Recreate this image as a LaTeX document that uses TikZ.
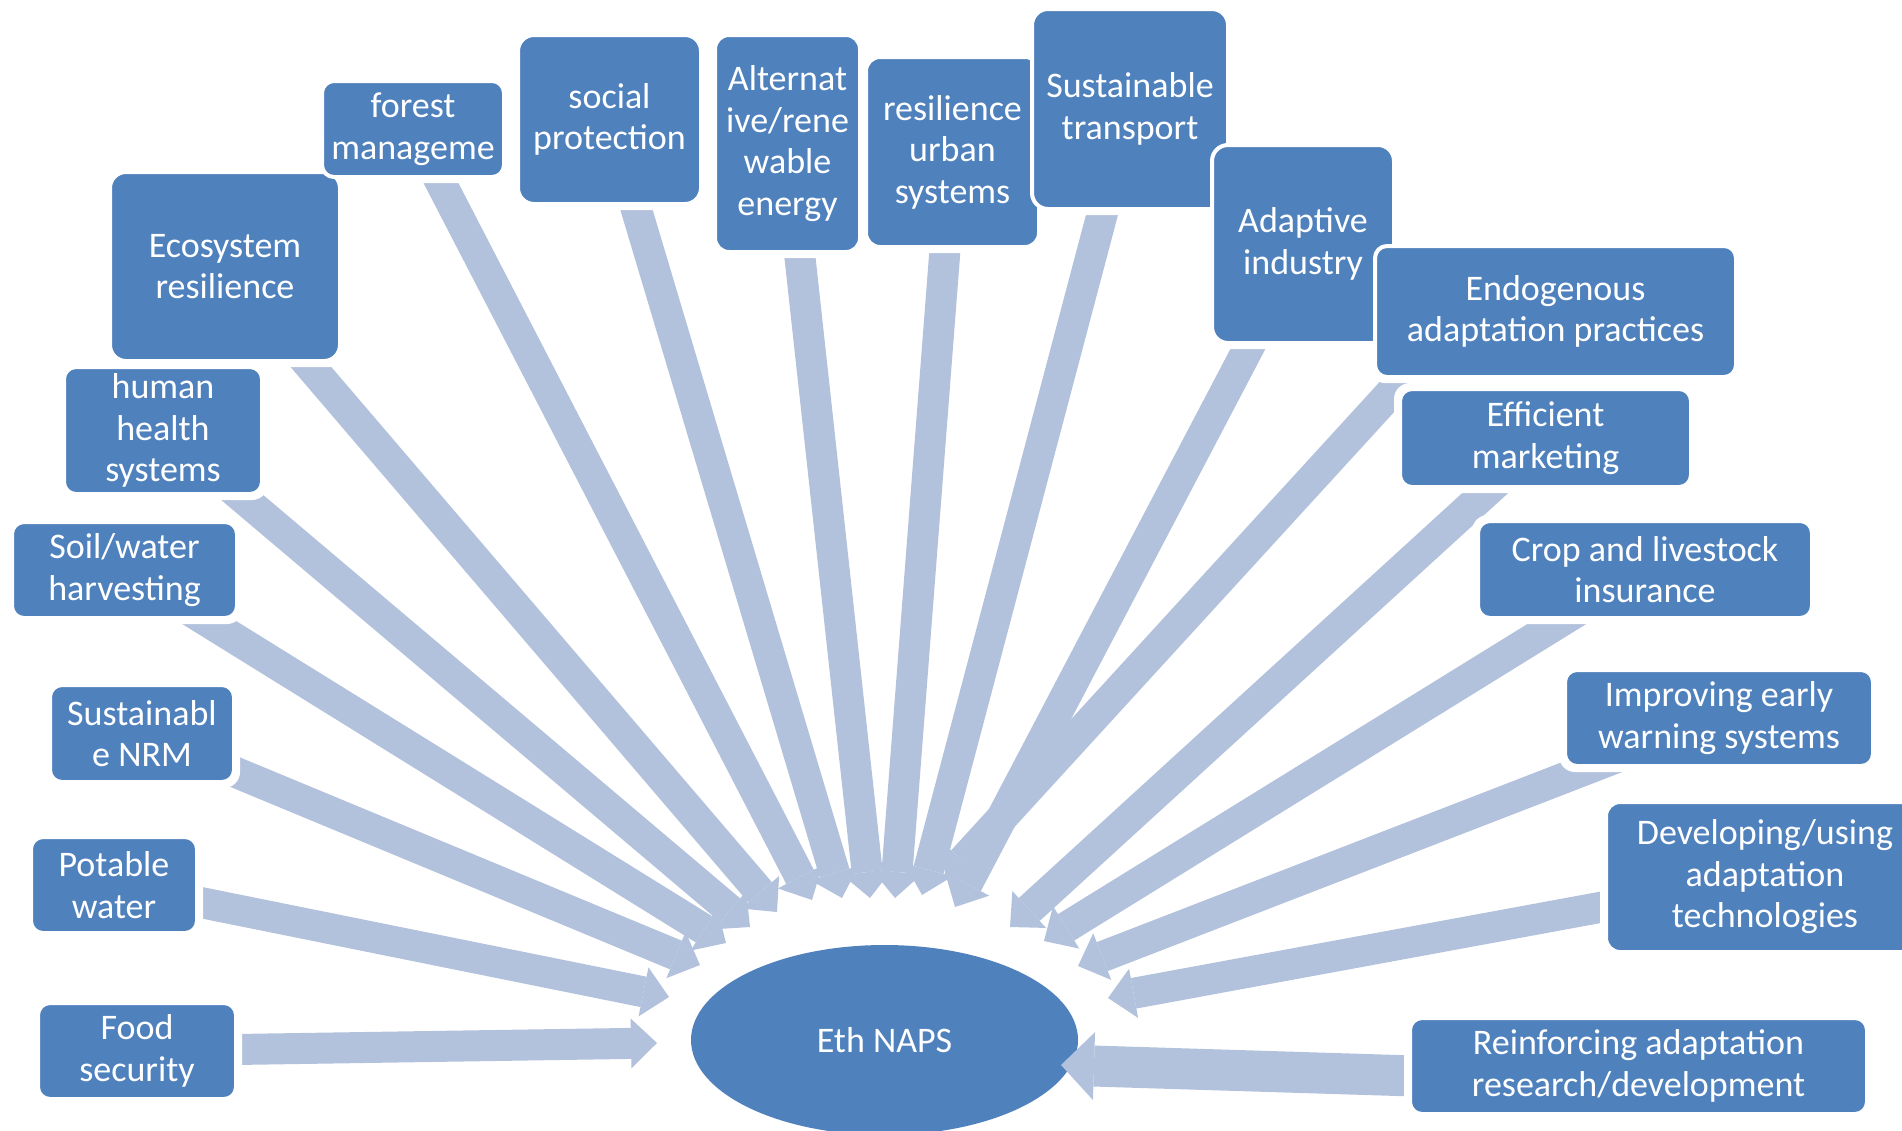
\documentclass[tikz,border=0pt]{standalone}
\usepackage{fontspec}
\newfontfamily\carl{Carlito}
\usetikzlibrary{shapes.geometric,arrows.meta,calc}
\definecolor{boxblue}{HTML}{4F81BD}
\definecolor{arrowc}{HTML}{B2C1DC}
\pgfdeclarelayer{ell}
\pgfdeclarelayer{arr}
\pgfdeclarelayer{halo}
\pgfsetlayers{ell,arr,halo,main}
\tikzset{
  box/.style={draw=white, line width=4pt, fill=boxblue, text=white,
    font=\carl\fontsize{36}{41.5}\selectfont, align=center, inner sep=0pt, outer sep=0pt},
  arr/.style={draw=arrowc, line width=31pt, -{Triangle[width=50pt,length=26pt,line width=0pt]}},
  arrbig/.style={draw=arrowc, line width=41pt, -{Triangle[width=68pt,length=33pt,line width=0pt]}},
}
% #1 corner radius, #2 name, #3 x1, #4 y1, #5 x2, #6 y2, #7 text
\newcommand\bx[7][12pt]{%
  \node[box, rounded corners=#1, minimum width={(#5-#3)*1pt}, minimum height={(#6-#4)*1pt}]
    (#2) at ({(#3+#5)/2},{(#4+#6)/2}) {#7};
  \begin{pgfonlayer}{halo}
    \fill[white, rounded corners=16pt] ({#3-6},{#4-6}) rectangle ({#5+6},{#6+6});
  \end{pgfonlayer}}
\begin{document}
\begin{tikzpicture}[x=1pt,y=-1pt]
\useasboundingbox (0,0) rectangle (1902,1130);

% boxes (drawing order gives the overlaps)
\bx[16pt]{eco}{110}{172}{340}{361}{Ecosystem\\resilience}
\bx{for}{322}{81}{504}{177}{forest\\manageme}
\bx[16pt]{soc}{518}{35}{701}{204}{social\\protection}
\bx[14pt]{alt}{715}{35}{860}{252}{Alternat\\ive/rene\\wable\\energy}
\bx[14pt]{res}{866}{57}{1039}{247}{resilience\\urban\\systems}
\bx[16pt]{tra}{1032}{9}{1228}{209}{Sustainable\\transport}
\bx[16pt]{ada}{1212}{145}{1394}{343}{Adaptive\\industry}
\bx{endo}{1375}{246}{1736}{377}{Endogenous\\adaptation practices}
\bx{eff}{1400}{389}{1691}{487}{Efficient\\marketing}
\bx{crop}{1478}{521}{1812}{618}{Crop and livestock\\insurance}
\bx{imp}{1565}{670}{1873}{766}{Improving early\\warning systems}
\bx[14pt]{dev}{1606}{802}{1924}{952}{Developing/using\\adaptation\\technologies}
\bx{rein}{1410}{1018}{1867}{1114}{Reinforcing adaptation\\research/development}
\bx{hum}{64}{367}{262}{494}{human\\health\\systems}
\bx{soil}{12}{522}{237}{618}{Soil/water\\harvesting}
\bx{nrm}{50}{685}{234}{782}{Sustainabl\\e NRM}
\bx{pot}{31}{837}{197}{933}{Potable\\water}
\bx{food}{38}{1003}{236}{1099}{Food\\security}

% central ellipse
\begin{pgfonlayer}{ell}
\node[ellipse, fill=boxblue, minimum width=387pt, minimum height=190pt, inner sep=0pt,
  text=white, font=\carl\fontsize{36}{41.5}\selectfont] (naps) at (884.5,1040) {Eth NAPS};
\end{pgfonlayer}

% arrow tips
\coordinate (t-eco) at (777,912);
\coordinate (t-hum) at (750,927);
\coordinate (t-soil) at (726,943);
\coordinate (t-nrm) at (700,965);
\coordinate (t-pot) at (669,997);
\coordinate (t-food) at (657,1043);
\coordinate (t-for) at (812,900);
\coordinate (t-soc) at (842,898);
\coordinate (t-alt) at (870,898);
\coordinate (t-res) at (895,898);
\coordinate (t-tra) at (922,895);
\coordinate (t-ada) at (955,907);
\coordinate (t-endo) at (945,880);
\coordinate (t-eff) at (1010,927);
\coordinate (t-crop) at (1044,941);
\coordinate (t-imp) at (1078,966);
\coordinate (t-dev) at (1108,998);
\coordinate (t-rein) at (1061,1065);

\begin{pgfonlayer}{arr}
\draw[arr] (eco.center) -- (t-eco);
\draw[arr] (hum.center) -- (t-hum);
\draw[arr] (soil.center) -- (t-soil);
\draw[arr] (nrm.center) -- (t-nrm);
\draw[arr] (pot.center) -- (t-pot);
\draw[arr] (food.center) -- (t-food);
\draw[arr] (for.center) -- (t-for);
\draw[arr] (soc.center) -- (t-soc);
\draw[arr] (alt.center) -- (t-alt);
\draw[arr] (res.center) -- (t-res);
\draw[arr] (tra.center) -- (t-tra);
\draw[arr] (ada.center) -- (t-ada);
\draw[arr] ($(endo.south west)+(64,-37)$) -- (t-endo);
\draw[arr] (eff.center) -- (t-eff);
\draw[arr] (crop.center) -- (t-crop);
\draw[arr] (imp.center) -- (t-imp);
\draw[arr] (dev.center) -- (t-dev);
\draw[arrbig] ($(rein.center)+(0,17)$) -- (t-rein);
\end{pgfonlayer}
\end{tikzpicture}
\end{document}
